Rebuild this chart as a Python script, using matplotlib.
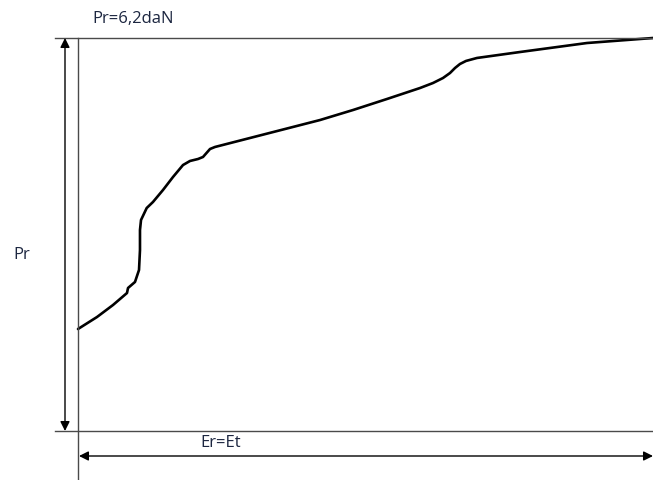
import matplotlib
matplotlib.use("Agg")
import matplotlib.pyplot as plt

# Load-strain curve: strain as % of Er, load in daN
strain = [0.0, 3.30, 6.09, 8.52, 8.70, 9.91, 10.61, 10.78, 10.78, 10.96, 11.95,
          13.04, 14.78, 16.52, 18.26, 19.48, 20.87, 21.74, 22.96, 23.83, 42.09,
          47.83, 53.74, 59.48, 61.74, 63.48, 64.70, 65.57, 66.43, 67.48, 69.39,
          76.87, 88.52, 100.0]
load = [1.609, 1.798, 1.988, 2.177, 2.256, 2.351, 2.540, 2.855, 3.171, 3.329, 3.518,
        3.613, 3.802, 4.007, 4.196, 4.260, 4.291, 4.323, 4.449, 4.481, 4.906,
        5.064, 5.238, 5.411, 5.490, 5.569, 5.648, 5.727, 5.790, 5.838, 5.885,
        5.979, 6.121, 6.2]

pr_max = 6.2
er_max = 100.0

W, H = 653, 480
fig = plt.figure(figsize=(W / 100, H / 100), dpi=100)
ax = fig.add_axes([78 / W, (H - 431) / H, (653 - 78) / W, (431 - 38) / H])
ax.set_xlim(0, er_max)
ax.set_ylim(0, pr_max)
ax.axis("off")

ax.plot(strain, load, color="black", lw=1.9, solid_capstyle="round",
        solid_joinstyle="round", clip_on=False)

# data units per pixel
px = er_max / (653 - 78)
py = pr_max / (431 - 38)
axis_col = "#4a4a4a"

# frame lines: top (Pr max), bottom (zero), left (origin)
ax.plot([-23 * px, er_max], [pr_max, pr_max], color=axis_col, lw=1.0, clip_on=False)
ax.plot([-23 * px, er_max], [0, 0], color=axis_col, lw=1.0, clip_on=False)
ax.plot([0, 0], [pr_max, -49 * py], color=axis_col, lw=1.0, clip_on=False)

# dimension arrows
ax.annotate("", xy=(-13 * px, pr_max), xytext=(-13 * px, 0),
            arrowprops=dict(arrowstyle="<|-|>", color="black", lw=1.0,
                            mutation_scale=14, shrinkA=0, shrinkB=0),
            annotation_clip=False)
ax.annotate("", xy=(1 * px, -25 * py), xytext=(er_max, -25 * py),
            arrowprops=dict(arrowstyle="<|-|>", color="black", lw=1.0,
                            mutation_scale=14, shrinkA=0, shrinkB=0),
            annotation_clip=False)

txt_col = "#1c2640"
font = "Open Sans"
ax.text(14 * px, pr_max + 19 * py, "Pr=6,2daN", color=txt_col, fontsize=12,
        family=font, ha="left", va="center")
ax.text(-65 * px, 176 * py, "Pr", color=txt_col, fontsize=12,
        family=font, ha="left", va="center")
ax.text(122 * px, -12 * py, "Er=Et", color=txt_col, fontsize=12,
        family=font, ha="left", va="center")

fig.savefig("out.png", dpi=100, facecolor="white")
